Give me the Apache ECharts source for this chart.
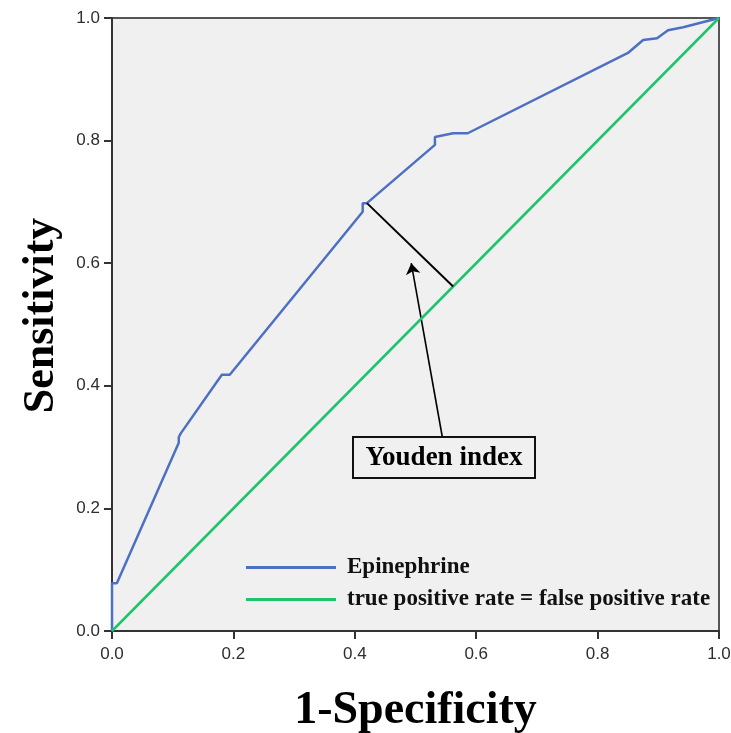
<!DOCTYPE html>
<html>
<head>
<meta charset="utf-8">
<script src="https://cdn.jsdelivr.net/npm/echarts@6/dist/echarts.min.js"></script>
<style>
  html, body { margin: 0; padding: 0; background: #fff; }
  #chart { width: 731px; height: 733px; }
</style>
</head>
<body>
<div id="chart"></div>
<script>
// ROC curve (1-specificity, sensitivity)
const rocX = [0, 0, 0.008, 0.110, 0.110, 0.113, 0.181, 0.194, 0.413, 0.413, 0.420, 0.532, 0.532, 0.562, 0.586, 0.850, 0.875, 0.898, 0.916, 0.941, 1.0];
const rocY = [0, 0.078, 0.078, 0.307, 0.316, 0.322, 0.418, 0.418, 0.684, 0.698, 0.698, 0.793, 0.806, 0.812, 0.812, 0.943, 0.964, 0.967, 0.980, 0.985, 1.0];
const refX = [0, 1];
const refY = [0, 1];
// Youden index segment and the arrow pointing to it
const youdenX = [0.420, 0.562];
const youdenY = [0.698, 0.562];
const arrowFrom = [0.545, 0.312];
const arrowTo = [0.493, 0.600];

const seriesNames = ['Epinephrine', 'true positive rate = false positive rate'];
const serif = '"Liberation Serif", "DejaVu Serif", serif';
const sans = 'Arial, "Liberation Sans", sans-serif';

const zip = (xs, ys) => xs.map((x, i) => [x, ys[i]]);

const axisCommon = {
  type: 'value', min: 0, max: 1, interval: 0.2,
  nameLocation: 'middle',
  nameTextStyle: { fontFamily: serif, fontWeight: 'bold', fontSize: 46, color: '#000' },
  axisLine: { show: true, lineStyle: { color: '#333', width: 2 } },
  axisTick: { show: true, length: 8, lineStyle: { color: '#333', width: 2 } },
  axisLabel: { formatter: v => v.toFixed(1), fontFamily: sans, fontSize: 17, color: '#2e2e2e', margin: 12 },
  splitLine: { show: false }
};

const chart = echarts.init(document.getElementById('chart'));

chart.setOption({
  animation: false,
  backgroundColor: '#fff',
  grid: {
    left: 112, right: 12, top: 18, bottom: 102,
    outerBoundsMode: 'none',
    containLabel: false,
    show: true,
    backgroundColor: '#f0f0f0',
    borderColor: '#555',
    borderWidth: 2
  },
  legend: {
    orient: 'vertical',
    left: 241, top: 551,
    itemWidth: 90, itemHeight: 3,
    itemGap: 9,
    icon: 'rect',
    data: seriesNames,
    textStyle: { fontFamily: serif, fontWeight: 'bold', fontSize: 23, color: '#111', padding: [0, 0, 0, 6] }
  },
  xAxis: Object.assign({}, axisCommon, {
    name: '1-Specificity',
    nameGap: 57,
    axisLabel: Object.assign({}, axisCommon.axisLabel, { margin: 15 })
  }),
  yAxis: Object.assign({}, axisCommon, {
    name: 'Sensitivity',
    nameGap: 48,
    nameTextStyle: Object.assign({}, axisCommon.nameTextStyle, { fontSize: 44, padding: [0, 0, 0, 18] })
  }),
  series: [
    {
      name: seriesNames[0],
      type: 'line',
      data: zip(rocX, rocY),
      symbol: 'none',
      color: '#4e70c2',
      lineStyle: { width: 2.5, color: '#4e70c2' }
    },
    {
      name: seriesNames[1],
      type: 'line',
      data: zip(refX, refY),
      symbol: 'none',
      color: '#1ec46c',
      lineStyle: { width: 2.5, color: '#1ec46c' }
    },
    {
      name: 'youden',
      type: 'line',
      data: zip(youdenX, youdenY),
      symbol: 'none',
      lineStyle: { width: 2, color: '#000' }
    },
    {
      name: 'arrow',
      type: 'lines',
      coordinateSystem: 'cartesian2d',
      symbol: ['none', 'arrow'],
      symbolSize: 11,
      lineStyle: { width: 1.6, color: '#000', opacity: 1 },
      data: [{ coords: [arrowFrom, arrowTo] }]
    }
  ],
  graphic: [
    {
      type: 'rect',
      shape: { x: 353, y: 437, width: 182, height: 41 },
      style: { fill: '#f0f0f0', stroke: '#111', lineWidth: 2 },
      z: 100
    },
    {
      type: 'text',
      x: 444, y: 458,
      style: {
        text: 'Youden index',
        fontFamily: serif, fontWeight: 'bold', fontSize: 27, fill: '#000',
        align: 'center', verticalAlign: 'middle'
      },
      z: 101
    }
  ]
});
</script>
</body>
</html>
